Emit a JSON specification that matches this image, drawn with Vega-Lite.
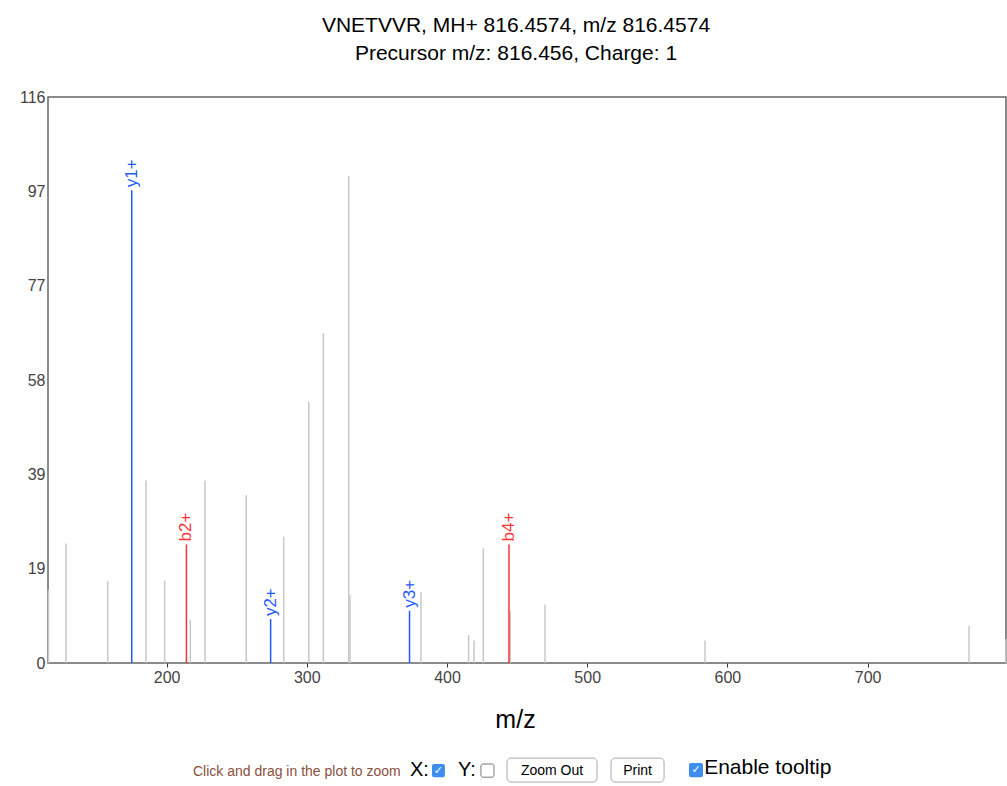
{
  "$schema": "https://vega.github.io/schema/vega-lite/v6.json",
  "width": 958,
  "height": 566,
  "autosize": {"type": "none"},
  "padding": {"left": 48, "top": 97, "right": 1, "bottom": 123},
  "background": "white",
  "config": {
    "font": "Liberation Sans",
    "view": {"stroke": "#666", "strokeWidth": 1.5},
    "axis": {"grid": false, "domain": false}
  },
  "title": {
    "text": "VNETVVR, MH+ 816.4574, m/z 816.4574",
    "subtitle": "Precursor m/z: 816.456, Charge: 1",
    "anchor": "middle",
    "dx": -11,
    "offset": 25,
    "fontSize": 21,
    "fontWeight": "normal",
    "color": "#000",
    "subtitleFontSize": 21,
    "subtitleColor": "#000",
    "subtitlePadding": 7,
    "font": "Liberation Sans",
    "subtitleFont": "Liberation Sans"
  },
  "data": {
    "values": [
      {"mz": 115.7, "intensity": 15.0, "type": "other", "label": ""},
      {"mz": 128.3, "intensity": 24.5, "type": "other", "label": ""},
      {"mz": 158.0, "intensity": 16.7, "type": "other", "label": ""},
      {"mz": 185.3, "intensity": 37.4, "type": "other", "label": ""},
      {"mz": 198.6, "intensity": 16.9, "type": "other", "label": ""},
      {"mz": 216.9, "intensity": 8.9, "type": "other", "label": ""},
      {"mz": 227.4, "intensity": 37.4, "type": "other", "label": ""},
      {"mz": 256.8, "intensity": 34.4, "type": "other", "label": ""},
      {"mz": 283.5, "intensity": 25.9, "type": "other", "label": ""},
      {"mz": 301.4, "intensity": 53.5, "type": "other", "label": ""},
      {"mz": 311.8, "intensity": 67.6, "type": "other", "label": ""},
      {"mz": 329.9, "intensity": 99.8, "type": "other", "label": ""},
      {"mz": 330.8, "intensity": 13.9, "type": "other", "label": ""},
      {"mz": 381.4, "intensity": 14.5, "type": "other", "label": ""},
      {"mz": 415.4, "intensity": 5.7, "type": "other", "label": ""},
      {"mz": 419.3, "intensity": 4.6, "type": "other", "label": ""},
      {"mz": 425.9, "intensity": 23.5, "type": "other", "label": ""},
      {"mz": 445.1, "intensity": 10.7, "type": "other", "label": ""},
      {"mz": 469.9, "intensity": 12.0, "type": "other", "label": ""},
      {"mz": 584.0, "intensity": 4.6, "type": "other", "label": ""},
      {"mz": 772.3, "intensity": 7.6, "type": "other", "label": ""},
      {"mz": 798.6, "intensity": 4.9, "type": "other", "label": ""},
      {"mz": 175.12, "intensity": 96.9, "type": "y", "label": "y1+"},
      {"mz": 214.12, "intensity": 24.3, "type": "b", "label": "b2+"},
      {"mz": 274.19, "intensity": 9.0, "type": "y", "label": "y2+"},
      {"mz": 373.26, "intensity": 10.7, "type": "y", "label": "y3+"},
      {"mz": 444.21, "intensity": 24.3, "type": "b", "label": "b4+"}
    ]
  },
  "layer": [
    {
      "mark": {"type": "rule", "strokeWidth": 1.5},
      "encoding": {
        "x": {
          "field": "mz", "type": "quantitative",
          "scale": {"domain": [115.4, 798.7], "nice": false, "zero": false},
          "axis": {
            "title": "m/z", "values": [200, 300, 400, 500, 600, 700],
            "tickSize": 4, "tickColor": "#333", "labelFontSize": 16, "labelColor": "#444",
            "labelPadding": 2, "titleFontSize": 25, "titleFontWeight": "normal", "titleColor": "#000",
            "titleX": 467, "titleY": 64, "titleBaseline": "alphabetic", "titleAlign": "center", "titleAnchor": null
          }
        },
        "y": {
          "field": "intensity", "type": "quantitative",
          "scale": {"domain": [0, 116], "nice": false, "zero": true},
          "axis": {
            "title": null, "values": [0, 19.333, 38.667, 58, 77.333, 96.667, 116],
            "format": ".0f", "ticks": false, "labelPadding": 3, "labelFontSize": 16, "labelColor": "#444"
          }
        },
        "y2": {"datum": 0},
        "color": {
          "field": "type", "type": "nominal",
          "scale": {"domain": ["other", "b", "y"], "range": ["#c8c8c8", "#ff3333", "#1f5bff"]},
          "legend": null
        }
      }
    },
    {
      "transform": [{"filter": "datum.label != ''"}],
      "mark": {"type": "text", "angle": 270, "align": "left", "baseline": "middle", "dx": 3, "fontSize": 17},
      "encoding": {
        "x": {"field": "mz", "type": "quantitative"},
        "y": {"field": "intensity", "type": "quantitative"},
        "text": {"field": "label"},
        "color": {"field": "type", "type": "nominal"}
      }
    },
    {
      "data": {"values": [{}]},
      "mark": {"type": "text", "align": "left", "baseline": "middle", "fontSize": 14, "color": "#8a4f3d"},
      "encoding": {"x": {"datum": 218.8}, "y": {"datum": -22.4}, "text": {"value": "Click and drag in the plot to zoom"}}
    },
    {
      "data": {"values": [{}]},
      "mark": {"type": "text", "align": "left", "baseline": "middle", "fontSize": 20, "color": "#000"},
      "encoding": {"x": {"datum": 373.6}, "y": {"datum": -22.0}, "text": {"value": "X:"}}
    },
    {
      "data": {"values": [{}]},
      "mark": {"type": "rect", "fill": "#3d8ef0", "cornerRadius": 2},
      "encoding": {"x": {"datum": 389.3}, "x2": {"datum": 398.5}, "y": {"datum": -20.7}, "y2": {"datum": -23.4}}
    },
    {
      "data": {"values": [{}]},
      "mark": {"type": "text", "align": "center", "baseline": "middle", "fontSize": 11, "color": "white", "font": "DejaVu Sans"},
      "encoding": {"x": {"datum": 393.9}, "y": {"datum": -22.05}, "text": {"value": "✓"}}
    },
    {
      "data": {"values": [{}]},
      "mark": {"type": "text", "align": "left", "baseline": "middle", "fontSize": 20, "color": "#000"},
      "encoding": {"x": {"datum": 407.8}, "y": {"datum": -22.0}, "text": {"value": "Y:"}}
    },
    {
      "data": {"values": [{}]},
      "mark": {"type": "rect", "fill": "white", "stroke": "#777", "strokeWidth": 1, "cornerRadius": 2},
      "encoding": {"x": {"datum": 424.2}, "x2": {"datum": 433.5}, "y": {"datum": -20.7}, "y2": {"datum": -23.4}}
    },
    {
      "data": {"values": [{}]},
      "mark": {"type": "rect", "fill": "white", "stroke": "#aaa", "strokeWidth": 1, "cornerRadius": 4},
      "encoding": {"x": {"datum": 442.8}, "x2": {"datum": 507.0}, "y": {"datum": -19.5}, "y2": {"datum": -24.4}}
    },
    {
      "data": {"values": [{}]},
      "mark": {"type": "text", "align": "center", "baseline": "middle", "fontSize": 14, "color": "#000"},
      "encoding": {"x": {"datum": 474.9}, "y": {"datum": -22.1}, "text": {"value": "Zoom Out"}}
    },
    {
      "data": {"values": [{}]},
      "mark": {"type": "rect", "fill": "white", "stroke": "#aaa", "strokeWidth": 1, "cornerRadius": 4},
      "encoding": {"x": {"datum": 517.0}, "x2": {"datum": 554.8}, "y": {"datum": -19.5}, "y2": {"datum": -24.4}}
    },
    {
      "data": {"values": [{}]},
      "mark": {"type": "text", "align": "center", "baseline": "middle", "fontSize": 14, "color": "#000"},
      "encoding": {"x": {"datum": 535.9}, "y": {"datum": -22.1}, "text": {"value": "Print"}}
    },
    {
      "data": {"values": [{}]},
      "mark": {"type": "rect", "fill": "#3d8ef0", "cornerRadius": 2},
      "encoding": {"x": {"datum": 572.6}, "x2": {"datum": 582.6}, "y": {"datum": -20.5}, "y2": {"datum": -23.4}}
    },
    {
      "data": {"values": [{}]},
      "mark": {"type": "text", "align": "center", "baseline": "middle", "fontSize": 11, "color": "white", "font": "DejaVu Sans"},
      "encoding": {"x": {"datum": 577.6}, "y": {"datum": -21.95}, "text": {"value": "✓"}}
    },
    {
      "data": {"values": [{}]},
      "mark": {"type": "text", "align": "left", "baseline": "middle", "fontSize": 21, "color": "#000"},
      "encoding": {"x": {"datum": 583.4}, "y": {"datum": -21.6}, "text": {"value": "Enable tooltip"}}
    }
  ]
}
